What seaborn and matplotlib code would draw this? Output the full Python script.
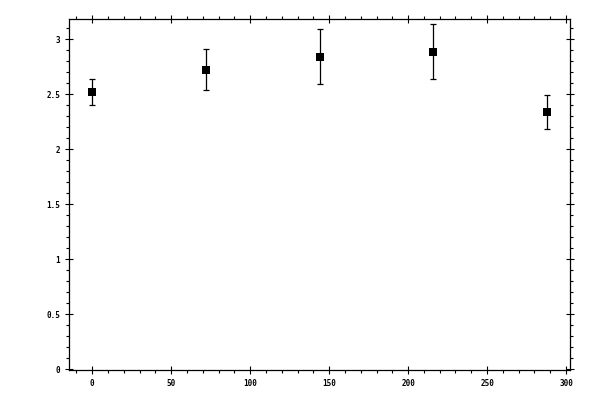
import matplotlib
matplotlib.use("Agg")
import matplotlib.pyplot as plt
import seaborn as sns
import pandas as pd
from matplotlib.ticker import MultipleLocator

x_vals = [0, 72, 144, 216, 288]
y_vals = [2.52, 2.72, 2.84, 2.885, 2.335]
y_err = [0.12, 0.185, 0.25, 0.25, 0.153]

sns.set_style("white")
plt.rcParams['font.family'] = ['DejaVu Sans Mono']
plt.rcParams['font.weight'] = 'bold'

df = pd.DataFrame({"x": x_vals, "y": y_vals, "err": y_err})

fig = plt.figure(figsize=(6, 4), dpi=100)
ax = fig.add_axes([0.1155, 0.075, 0.8345, 0.877])

ax.errorbar(df["x"], df["y"], yerr=df["err"], fmt="none", ecolor="black",
            elinewidth=0.9, capsize=2.5, capthick=0.9, zorder=2)
sns.scatterplot(data=df, x="x", y="y", marker="s", color="black", s=26,
                edgecolor="black", linewidth=0, ax=ax, zorder=3)

ax.set_xlim(-14.5, 302.5)
ax.set_ylim(-0.005, 3.18)
ax.xaxis.set_major_locator(MultipleLocator(50))
ax.xaxis.set_minor_locator(MultipleLocator(10))
ax.yaxis.set_major_locator(MultipleLocator(0.5))
ax.yaxis.set_minor_locator(MultipleLocator(0.1))
ax.yaxis.set_major_formatter(plt.FuncFormatter(lambda v, p: f"{v:g}"))
ax.set_xlabel("")
ax.set_ylabel("")

for s in ax.spines.values():
    s.set_visible(True)
    s.set_color("black")
    s.set_linewidth(0.9)

ax.tick_params(axis="both", which="major", direction="inout", length=5.3,
               width=0.8, color="black", labelsize=5.5, labelcolor="black",
               top=True, right=True, bottom=True, left=True,
               labeltop=False, labelright=False)
ax.tick_params(axis="both", which="minor", direction="out", length=2.4,
               width=0.8, color="black", top=True, right=True, bottom=True, left=True)
ax.tick_params(axis="x", which="major", pad=4)
ax.tick_params(axis="y", which="major", pad=4)

fig.savefig("out.png", dpi=100)
